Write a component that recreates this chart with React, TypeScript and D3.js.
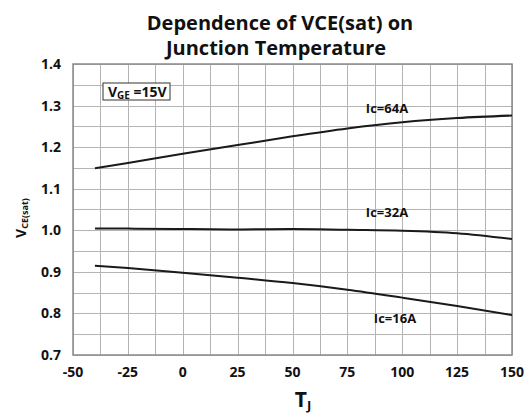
import { useEffect, useRef } from "react";
import * as d3 from "d3";

const temps = [-40, -25, 0, 25, 50, 75, 100, 125, 150];
const ic64 = [1.149, 1.162, 1.184, 1.205, 1.226, 1.245, 1.26, 1.27, 1.276];
const ic32 = [1.004, 1.004, 1.003, 1.002, 1.003, 1.001, 0.999, 0.993, 0.979];
const ic16 = [0.915, 0.909, 0.898, 0.886, 0.873, 0.857, 0.838, 0.818, 0.796];

const xTicks = [-50, -25, 0, 25, 50, 75, 100, 125, 150];
const yTicks = [0.7, 0.8, 0.9, 1.0, 1.1, 1.2, 1.3, 1.4];

const series = [
  { name: "Ic=64A", values: ic64, lx: 387, ly: 108 },
  { name: "Ic=32A", values: ic32, lx: 387, ly: 212 },
  { name: "Ic=16A", values: ic16, lx: 395, ly: 318 },
];

const W = 530;
const H = 416;
const left = 73;
const right = 512;
const top = 64;
const bottom = 355;
const font = "'Open Sans', 'DejaVu Sans', sans-serif";

// grid every 12.5 degrees and every 0.05 V
const vGrid = d3.range(0, 17).map((i) => -50 + i * 12.5);
const hGrid = d3.range(0, 15).map((i) => 0.7 + i * 0.05);

export default function App() {
  const gridRef = useRef<SVGGElement | null>(null);
  const x = d3.scaleLinear().domain([-50, 150]).range([left, right]);
  const y = d3.scaleLinear().domain([0.7, 1.4]).range([bottom, top]);

  useEffect(() => {
    if (!gridRef.current) return;
    const g = d3.select(gridRef.current);
    g.selectAll("*").remove();
    g.selectAll(".vg")
      .data(vGrid)
      .enter()
      .append("line")
      .attr("x1", (d) => Math.round(x(d)) + 0.5)
      .attr("x2", (d) => Math.round(x(d)) + 0.5)
      .attr("y1", top)
      .attr("y2", bottom)
      .attr("stroke", "#b4b4b4")
      .attr("stroke-width", 1);
    g.selectAll(".hg")
      .data(hGrid)
      .enter()
      .append("line")
      .attr("x1", left)
      .attr("x2", right)
      .attr("y1", (d) => Math.round(y(d)) + 0.5)
      .attr("y2", (d) => Math.round(y(d)) + 0.5)
      .attr("stroke", "#b4b4b4")
      .attr("stroke-width", 1);
  }, []);

  const line = d3
    .line<number>()
    .x((_, i) => x(temps[i]))
    .y((d) => y(d))
    .curve(d3.curveMonotoneX);

  return (
    <svg
      width={W}
      height={H}
      style={{ position: "absolute", left: 0, top: 0, background: "#fff" }}
      fontFamily={font}
    >
      <rect width={W} height={H} fill="#fff" />
      <text x={280} y={30} textAnchor="middle" fontSize={20} fontWeight="bold" fill="#111">
        Dependence of VCE(sat) on
      </text>
      <text x={276} y={55} textAnchor="middle" fontSize={20} fontWeight="bold" fill="#111">
        Junction Temperature
      </text>

      <g ref={gridRef} />
      <rect x={left} y={top} width={right - left} height={bottom - top} fill="none" stroke="#8a8a8a" strokeWidth={1.5} />

      {yTicks.map((t) => (
        <text key={"yt" + t} x={61} y={y(t) + 5} textAnchor="end" fontSize={14} fontWeight="bold" fill="#111">
          {t.toFixed(1)}
        </text>
      ))}
      {xTicks.map((t) => (
        <text key={"xt" + t} x={x(t)} y={377} textAnchor="middle" fontSize={14} fontWeight="bold" fill="#111">
          {t}
        </text>
      ))}

      {series.map((s) => (
        <g key={s.name}>
          <path d={line(s.values) || ""} fill="none" stroke="#1a1a1a" strokeWidth={2} />
          <text x={s.lx} y={s.ly + 5} textAnchor="middle" fontSize={13} fontWeight="bold" fill="#111">
            {s.name}
          </text>
        </g>
      ))}

      <rect x={103} y={83} width={67} height={17} fill="#fff" stroke="#333" strokeWidth={1} />
      <text x={108} y={97} fontSize={14} fontWeight="bold" fill="#111">
        V<tspan fontSize={10} dy={2}>GE</tspan>
        <tspan dy={-2}> =15V</tspan>
      </text>

      <text x={303} y={407} textAnchor="middle" fontSize={21} fontWeight="bold" fill="#111">
        T<tspan fontSize={13} dy={3}>J</tspan>
      </text>

      <g transform="translate(26,218) rotate(-90)">
        <text x={0} y={0} textAnchor="middle" fontSize={14} fontWeight="bold" fill="#111">
          V<tspan fontSize={9} dy={2}>CE(sat)</tspan>
        </text>
      </g>
    </svg>
  );
}
